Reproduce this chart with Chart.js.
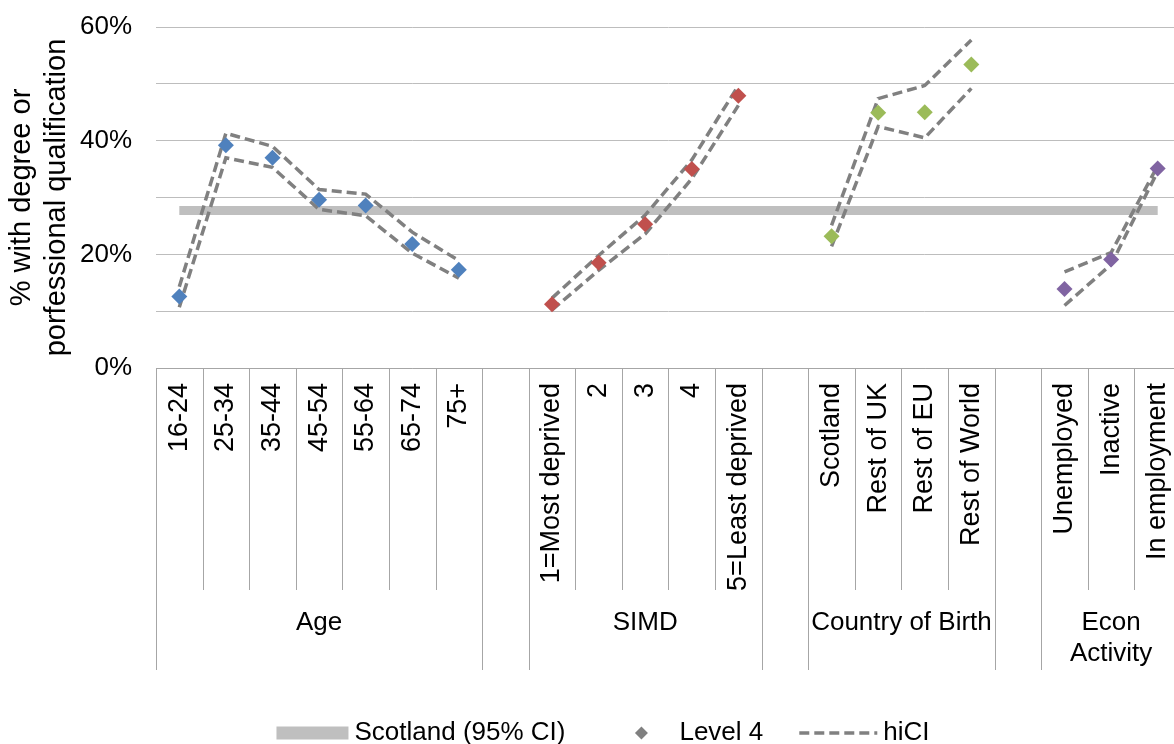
<!DOCTYPE html>
<html>
<head>
<meta charset="utf-8">
<title>Degree or professional qualification by group</title>
<script src="https://cdn.jsdelivr.net/npm/chart.js@4.4.1/dist/chart.umd.min.js"></script>
<style>
  html, body { margin: 0; padding: 0; background: #fff; overflow: hidden; }
  #wrap { width: 1200px; height: 744px; }
</style>
</head>
<body>
<div id="wrap"><canvas id="chart" width="1200" height="744"></canvas></div>
<script>
// Category labels, one list per breakdown
const ageBands    = ['16-24', '25-34', '35-44', '45-54', '55-64', '65-74', '75+'];
const simdBands   = ['1=Most deprived', '2', '3', '4', '5=Least deprived'];
const birthPlaces = ['Scotland', 'Rest of UK', 'Rest of EU', 'Rest of World'];
const econStatus  = ['Unemployed', 'Inactive', 'In employment'];
const groupNames  = ['Age', 'SIMD', 'Country of Birth', 'Econ Activity'];
const groupColors = ['#4F81BD', '#C0504D', '#9BBB59', '#8064A2'];

// Values (%) in category order; null marks the empty spacer column between groups
const level4 = [12.6, 39.2, 37.0, 29.6, 28.6, 21.8, 17.3, null,
                11.2, 18.5, 25.3, 35.0, 47.9, null,
                23.2, 44.9, 45.0, 53.4, null,
                13.9, 19.1, 35.1];
const hiCI   = [14.3, 41.3, 39.0, 31.4, 30.6, 23.9, 18.9, null,
                12.3, 19.8, 26.9, 36.6, 49.7, null,
                25.1, 47.4, 49.7, 57.7, null,
                16.9, 20.3, 35.6];
const loCI   = [10.7, 37.0, 35.3, 27.9, 26.8, 20.2, 15.8, null,
                10.2, 17.2, 23.6, 33.3, 46.2, null,
                21.4, 42.5, 40.5, 49.2, null,
                11.0, 18.2, 34.6];
const scotland = [27.7, 27.7, 27.7, 27.7, 27.7, 27.7, 27.7, 27.7,
                  27.7, 27.7, 27.7, 27.7, 27.7, 27.7,
                  27.7, 27.7, 27.7, 27.7, 27.7,
                  27.7, 27.7, 27.7];
const yLabelled = [0, 20, 40, 60];

// Flatten groups into one category axis with a blank spacer between groups
const groupMembers = [ageBands, simdBands, birthPlaces, econStatus];
const categories = [];
const pointColors = [];
const spans = [];   // {label, start, count} incl. spacer columns
groupMembers.forEach((members, g) => {
  if (g > 0) {
    spans.push({ label: '', start: categories.length, count: 1 });
    categories.push('');
    pointColors.push('rgba(0,0,0,0)');
  }
  spans.push({ label: groupNames[g], start: categories.length, count: members.length });
  members.forEach(m => { categories.push(m); pointColors.push(groupColors[g]); });
});

const FONT = '"Liberation Sans", Arial, Helvetica, sans-serif';
Chart.defaults.font.family = FONT;
Chart.defaults.color = '#000';

const CAT_ROW = 222;   // height of the category label row below the axis

// Separators and group captions under the category axis
const groupAxis = {
  id: 'groupAxis',
  afterDraw(chart) {
    const xs = chart.scales.x;
    const ctx = chart.ctx;
    const n = categories.length;
    const step = xs.getPixelForValue(1) - xs.getPixelForValue(0);
    const edge = i => xs.getPixelForValue(0) - step / 2 + i * step;
    const top = xs.top;
    const rowBottom = top + CAT_ROW;
    const bottom = xs.bottom;
    const groupEdges = new Set();
    spans.forEach(s => { groupEdges.add(s.start); groupEdges.add(s.start + s.count); });

    ctx.save();
    ctx.strokeStyle = '#A6A6A6';
    ctx.lineWidth = 1;
    for (let i = 0; i <= n; i++) {
      const px = Math.round(edge(i)) + 0.5;
      ctx.beginPath();
      ctx.moveTo(px, top);
      ctx.lineTo(px, groupEdges.has(i) ? bottom : rowBottom);
      ctx.stroke();
    }

    ctx.font = '26px ' + FONT;
    ctx.fillStyle = '#000';
    ctx.textAlign = 'center';
    ctx.textBaseline = 'middle';
    spans.forEach(s => {
      if (!s.label) return;
      const x0 = edge(s.start), x1 = edge(s.start + s.count);
      const maxW = (x1 - x0) * 1.03;
      const words = s.label.split(' ');
      const lines = [];
      let cur = '';
      words.forEach(w => {
        const t = cur ? cur + ' ' + w : w;
        if (cur && ctx.measureText(t).width > maxW) { lines.push(cur); cur = w; }
        else cur = t;
      });
      lines.push(cur);
      lines.forEach((ln, k) => ctx.fillText(ln, (x0 + x1) / 2, rowBottom + 33 + k * 31));
    });
    ctx.restore();
  }
};

// Legend row at the foot of the chart
const footLegend = {
  id: 'footLegend',
  afterDraw(chart) {
    const ctx = chart.ctx;
    const items = chart.data.datasets.filter(d => d.inLegend !== false);
    const symW = 72, gapT = 6, gapI = 36, y = 733;
    ctx.save();
    ctx.font = '26px ' + FONT;
    const widths = items.map(d => ctx.measureText(d.label).width);
    const total = widths.reduce((a, w) => a + symW + gapT + w, 0) + gapI * (items.length - 1);
    let x = chart.width / 2 - total / 2;
    items.forEach((d, i) => {
      if (d.pointStyle === 'rectRot') {
        const cx = x + symW / 2 + 4, r = 6.5;
        ctx.fillStyle = d.legendColor;
        ctx.beginPath();
        ctx.moveTo(cx, y - r); ctx.lineTo(cx + r, y); ctx.lineTo(cx, y + r); ctx.lineTo(cx - r, y);
        ctx.closePath();
        ctx.fill();
      } else if (d.borderDash) {
        ctx.strokeStyle = d.borderColor;
        ctx.lineWidth = d.borderWidth;
        ctx.setLineDash(d.borderDash);
        ctx.beginPath();
        ctx.moveTo(x, y); ctx.lineTo(x + symW + 6, y);
        ctx.stroke();
        ctx.setLineDash([]);
      } else {
        ctx.fillStyle = d.borderColor;
        ctx.fillRect(x, y - 6.5, symW, 13);
      }
      ctx.fillStyle = '#000';
      ctx.textAlign = 'left';
      ctx.textBaseline = 'middle';
      ctx.fillText(d.label, x + symW + gapT + (d.borderDash ? 6 : 0), y);
      x += symW + gapT + widths[i] + gapI;
    });
    ctx.restore();
  }
};

new Chart(document.getElementById('chart'), {
  type: 'line',
  data: {
    labels: categories,
    datasets: [
      {
        label: 'Scotland (95% CI)',
        data: scotland,
        borderColor: '#BFBFBF',
        borderWidth: 9,
        borderCapStyle: 'butt',
        pointRadius: 0,
        order: 3
      },
      {
        label: 'Level 4',
        data: level4,
        showLine: false,
        pointStyle: 'rectRot',
        pointRadius: 8,
        pointHoverRadius: 8,
        pointBackgroundColor: pointColors,
        pointBorderWidth: 0,
        borderColor: 'rgba(0,0,0,0)',
        legendColor: '#808080',
        order: 0
      },
      {
        label: 'hiCI',
        data: hiCI,
        borderColor: '#808080',
        borderWidth: 3.5,
        borderDash: [10, 5],
        pointRadius: 0,
        order: 1
      },
      {
        label: 'loCI',
        data: loCI,
        borderColor: '#808080',
        borderWidth: 3.5,
        borderDash: [10, 5],
        pointRadius: 0,
        inLegend: false,
        order: 2
      }
    ]
  },
  options: {
    responsive: false,
    animation: false,
    events: [],
    spanGaps: false,
    layout: { padding: { top: 27, right: 19, bottom: 74, left: 0 } },
    plugins: { legend: { display: false }, tooltip: { enabled: false } },
    scales: {
      x: {
        offset: true,
        grid: { display: false, offset: true },
        border: { display: true, color: '#A6A6A6' },
        ticks: {
          autoSkip: false,
          maxRotation: 90,
          minRotation: 90,
          padding: 7,
          color: '#000',
          font: { size: 27 }
        },
        afterFit(scale) {
          scale.height = 302;
          scale.paddingLeft = 0; scale.paddingRight = 0;
          scale.paddingTop = 0; scale.paddingBottom = 0;
        }
      },
      y: {
        min: 0,
        max: 60,
        grid: { color: '#BDBDBD', drawTicks: false },
        border: { display: false },
        ticks: {
          stepSize: 5,
          padding: 24,
          color: '#000',
          font: { size: 26 },
          callback: v => (yLabelled.includes(v) ? v + '%' : '')
        },
        title: {
          display: true,
          text: ['% with degree or', 'porfessional qualification'],
          color: '#000',
          font: { size: 29 },
          padding: { top: 5, bottom: 0 }
        },
        afterFit(scale) {
          scale.width = 156;
          scale.paddingTop = 0; scale.paddingBottom = 0;
          scale.paddingLeft = 0; scale.paddingRight = 0;
        }
      }
    }
  },
  plugins: [groupAxis, footLegend]
});
</script>
</body>
</html>
